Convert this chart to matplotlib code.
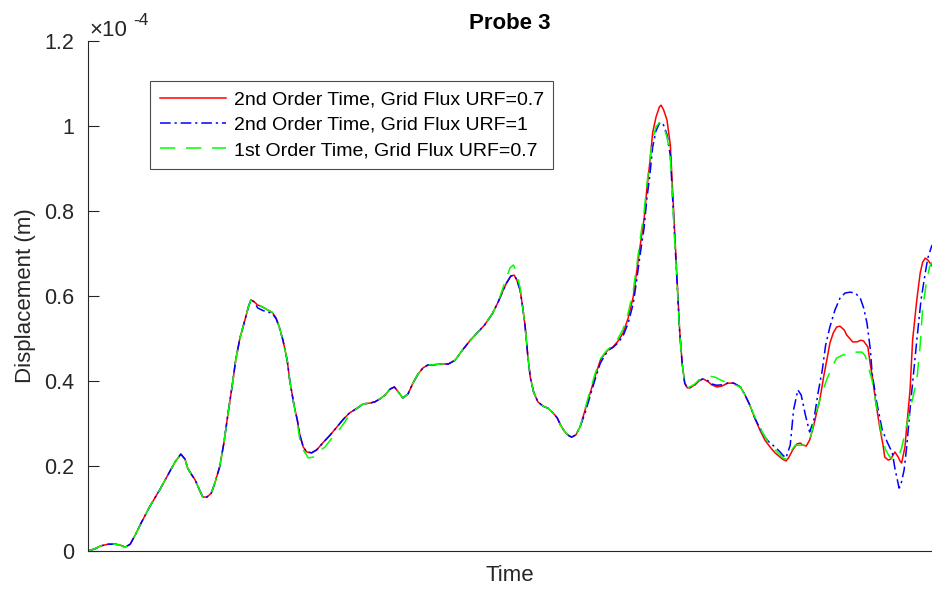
import matplotlib
matplotlib.use("Agg")
import matplotlib.pyplot as plt
from matplotlib.ticker import FuncFormatter

plt.rcParams['font.family'] = ['Liberation Sans', 'DejaVu Sans']

# Normalised time (0..1) and probe displacement in units of 1e-4 m.
# The early rise is identical for all three runs.
rise = [(0.000, 0.000), (0.008, 0.005), (0.015, 0.012), (0.024, 0.016), (0.032, 0.016),
        (0.038, 0.014), (0.044, 0.009), (0.050, 0.016), (0.056, 0.038), (0.063, 0.066),
        (0.073, 0.104), (0.085, 0.144), (0.098, 0.191), (0.104, 0.212), (0.110, 0.228),
        (0.115, 0.216), (0.118, 0.195), (0.123, 0.179), (0.127, 0.167), (0.132, 0.144),
        (0.136, 0.127), (0.141, 0.127), (0.146, 0.136), (0.150, 0.158), (0.156, 0.198),
        (0.161, 0.254), (0.166, 0.325), (0.171, 0.391), (0.175, 0.449), (0.180, 0.501),
        (0.186, 0.544), (0.190, 0.574), (0.193, 0.591), (0.197, 0.586)]

# 2nd order time, grid flux URF = 0.7
red_tail = [
    (0.201, 0.579), (0.207, 0.574), (0.213, 0.567), (0.218, 0.562), (0.223, 0.548),
    (0.227, 0.525), (0.231, 0.496), (0.236, 0.449), (0.239, 0.402), (0.244, 0.344),
    (0.248, 0.308), (0.251, 0.273), (0.255, 0.245), (0.259, 0.233), (0.265, 0.231),
    (0.271, 0.238), (0.278, 0.254), (0.287, 0.273), (0.295, 0.292), (0.303, 0.311),
    (0.310, 0.325), (0.319, 0.336), (0.326, 0.346), (0.334, 0.348), (0.340, 0.351),
    (0.346, 0.358), (0.352, 0.367), (0.358, 0.381), (0.363, 0.386), (0.367, 0.376),
    (0.373, 0.360), (0.379, 0.369), (0.385, 0.395), (0.391, 0.416), (0.397, 0.431),
    (0.403, 0.438), (0.409, 0.438), (0.417, 0.440), (0.427, 0.440), (0.435, 0.449),
    (0.443, 0.471), (0.453, 0.496), (0.462, 0.515), (0.470, 0.532), (0.479, 0.558),
    (0.486, 0.586), (0.492, 0.614), (0.496, 0.631), (0.501, 0.647), (0.505, 0.649),
    (0.508, 0.638), (0.512, 0.614), (0.515, 0.574), (0.518, 0.527), (0.521, 0.461),
    (0.524, 0.409), (0.528, 0.374), (0.533, 0.351), (0.539, 0.341), (0.545, 0.336),
    (0.551, 0.325), (0.556, 0.313), (0.560, 0.296), (0.565, 0.280), (0.570, 0.271),
    (0.573, 0.268), (0.578, 0.273), (0.583, 0.292), (0.589, 0.332), (0.595, 0.372),
    (0.601, 0.412), (0.607, 0.449), (0.613, 0.466), (0.617, 0.475), (0.622, 0.480),
    (0.628, 0.494), (0.634, 0.513), (0.640, 0.548), (0.646, 0.598), (0.650, 0.656),
    (0.654, 0.715), (0.659, 0.784), (0.662, 0.849), (0.666, 0.920), (0.669, 0.984),
    (0.673, 1.021), (0.677, 1.045), (0.679, 1.049), (0.682, 1.038), (0.686, 1.014),
    (0.690, 0.955), (0.692, 0.873), (0.695, 0.755), (0.698, 0.638), (0.701, 0.520),
    (0.704, 0.442), (0.707, 0.395), (0.710, 0.384), (0.713, 0.384), (0.719, 0.391),
    (0.724, 0.400), (0.729, 0.405), (0.735, 0.398), (0.739, 0.391), (0.745, 0.386),
    (0.751, 0.388), (0.758, 0.395), (0.765, 0.395), (0.773, 0.386), (0.778, 0.369),
    (0.784, 0.344), (0.790, 0.313), (0.796, 0.285), (0.802, 0.261), (0.808, 0.245),
    (0.814, 0.231), (0.820, 0.221), (0.823, 0.216), (0.827, 0.212), (0.830, 0.219),
    (0.835, 0.238), (0.840, 0.252), (0.844, 0.254), (0.847, 0.249), (0.851, 0.247),
    (0.855, 0.261), (0.860, 0.296), (0.864, 0.332), (0.867, 0.355), (0.872, 0.414),
    (0.876, 0.456), (0.879, 0.489), (0.883, 0.513), (0.887, 0.527), (0.891, 0.529),
    (0.896, 0.520), (0.899, 0.508), (0.903, 0.499), (0.906, 0.492), (0.911, 0.492),
    (0.916, 0.496), (0.919, 0.494), (0.924, 0.480), (0.927, 0.438), (0.930, 0.402),
    (0.933, 0.355), (0.938, 0.292), (0.942, 0.249), (0.944, 0.221), (0.948, 0.214),
    (0.951, 0.216), (0.956, 0.233), (0.960, 0.221), (0.962, 0.212), (0.964, 0.207),
    (0.968, 0.245), (0.970, 0.292), (0.974, 0.379), (0.977, 0.496), (0.982, 0.591),
    (0.986, 0.654), (0.989, 0.680), (0.992, 0.689), (0.995, 0.685), (1.000, 0.671)]

# 2nd order time, grid flux URF = 1
blue_tail = [
    (0.201, 0.572), (0.207, 0.566), (0.213, 0.562), (0.218, 0.560), (0.223, 0.546),
    (0.227, 0.523), (0.231, 0.496), (0.236, 0.449), (0.239, 0.402), (0.244, 0.344),
    (0.248, 0.308), (0.251, 0.273), (0.255, 0.245), (0.259, 0.233), (0.265, 0.231),
    (0.271, 0.238), (0.278, 0.254), (0.287, 0.273), (0.295, 0.292), (0.303, 0.311),
    (0.310, 0.325), (0.319, 0.336), (0.326, 0.346), (0.334, 0.348), (0.340, 0.351),
    (0.346, 0.358), (0.352, 0.367), (0.358, 0.381), (0.363, 0.386), (0.367, 0.376),
    (0.373, 0.360), (0.379, 0.369), (0.385, 0.395), (0.391, 0.416), (0.397, 0.431),
    (0.403, 0.438), (0.409, 0.438), (0.417, 0.440), (0.427, 0.440), (0.435, 0.449),
    (0.443, 0.471), (0.453, 0.496), (0.462, 0.515), (0.470, 0.532), (0.479, 0.558),
    (0.486, 0.586), (0.492, 0.614), (0.496, 0.631), (0.501, 0.647), (0.505, 0.649),
    (0.508, 0.638), (0.512, 0.614), (0.515, 0.574), (0.518, 0.527), (0.521, 0.461),
    (0.524, 0.409), (0.528, 0.374), (0.533, 0.351), (0.539, 0.341), (0.545, 0.336),
    (0.551, 0.325), (0.556, 0.313), (0.560, 0.296), (0.565, 0.280), (0.570, 0.271),
    (0.573, 0.268), (0.578, 0.273), (0.583, 0.292), (0.589, 0.325), (0.595, 0.365),
    (0.601, 0.405), (0.607, 0.442), (0.613, 0.462), (0.617, 0.473), (0.622, 0.479),
    (0.628, 0.490), (0.634, 0.506), (0.640, 0.536), (0.646, 0.582), (0.650, 0.636),
    (0.654, 0.695), (0.659, 0.762), (0.662, 0.826), (0.666, 0.890), (0.669, 0.950),
    (0.673, 0.989), (0.677, 1.006), (0.679, 1.009), (0.682, 1.002), (0.686, 0.980),
    (0.690, 0.930), (0.692, 0.855), (0.695, 0.745), (0.698, 0.632), (0.701, 0.516),
    (0.704, 0.440), (0.707, 0.395), (0.710, 0.384), (0.713, 0.384), (0.719, 0.391),
    (0.724, 0.402), (0.729, 0.405), (0.735, 0.400), (0.739, 0.393), (0.745, 0.390),
    (0.751, 0.391), (0.758, 0.395), (0.765, 0.395), (0.773, 0.386), (0.778, 0.369),
    (0.784, 0.344), (0.790, 0.313), (0.796, 0.289), (0.802, 0.268), (0.808, 0.254),
    (0.814, 0.245), (0.820, 0.233), (0.823, 0.226), (0.827, 0.219), (0.832, 0.249),
    (0.836, 0.332), (0.841, 0.379), (0.845, 0.367), (0.850, 0.320), (0.855, 0.280),
    (0.860, 0.308), (0.865, 0.372), (0.870, 0.426), (0.874, 0.485), (0.879, 0.527),
    (0.885, 0.567), (0.891, 0.595), (0.897, 0.607), (0.903, 0.609), (0.909, 0.607),
    (0.915, 0.595), (0.919, 0.572), (0.923, 0.536), (0.927, 0.473), (0.929, 0.419),
    (0.934, 0.355), (0.941, 0.285), (0.947, 0.256), (0.953, 0.231), (0.956, 0.195),
    (0.959, 0.167), (0.961, 0.148), (0.963, 0.155), (0.967, 0.191), (0.970, 0.245),
    (0.975, 0.355), (0.982, 0.496), (0.987, 0.591), (0.992, 0.654), (0.995, 0.689),
    (1.000, 0.720)]

# 1st order time, grid flux URF = 0.7
green_tail = [
    (0.201, 0.579), (0.207, 0.574), (0.213, 0.567), (0.218, 0.562), (0.223, 0.548),
    (0.227, 0.525), (0.231, 0.496), (0.236, 0.449), (0.239, 0.402), (0.244, 0.344),
    (0.248, 0.300), (0.251, 0.262), (0.255, 0.238), (0.261, 0.219), (0.267, 0.221),
    (0.273, 0.233), (0.281, 0.245), (0.289, 0.266), (0.299, 0.289), (0.310, 0.320),
    (0.319, 0.336), (0.326, 0.346), (0.334, 0.348), (0.340, 0.351), (0.346, 0.358),
    (0.352, 0.367), (0.358, 0.381), (0.363, 0.386), (0.367, 0.376), (0.373, 0.360),
    (0.379, 0.369), (0.385, 0.395), (0.391, 0.416), (0.397, 0.431), (0.403, 0.438),
    (0.409, 0.438), (0.417, 0.440), (0.427, 0.440), (0.435, 0.449), (0.443, 0.471),
    (0.453, 0.496), (0.462, 0.515), (0.470, 0.532), (0.479, 0.558), (0.486, 0.586),
    (0.494, 0.633), (0.500, 0.666), (0.504, 0.673), (0.507, 0.661), (0.512, 0.619),
    (0.515, 0.574), (0.518, 0.527), (0.521, 0.461), (0.524, 0.409), (0.528, 0.374),
    (0.533, 0.351), (0.539, 0.341), (0.545, 0.336), (0.551, 0.325), (0.556, 0.313),
    (0.560, 0.296), (0.565, 0.280), (0.570, 0.271), (0.573, 0.268), (0.578, 0.273),
    (0.583, 0.292), (0.589, 0.335), (0.595, 0.378), (0.601, 0.418), (0.607, 0.452),
    (0.613, 0.468), (0.617, 0.476), (0.622, 0.484), (0.628, 0.500), (0.634, 0.522),
    (0.640, 0.560), (0.646, 0.612), (0.650, 0.670), (0.654, 0.730), (0.659, 0.800),
    (0.662, 0.860), (0.666, 0.925), (0.669, 0.970), (0.673, 0.998), (0.677, 1.008),
    (0.679, 1.009), (0.682, 0.998), (0.686, 0.975), (0.690, 0.925), (0.692, 0.850),
    (0.695, 0.740), (0.698, 0.630), (0.701, 0.515), (0.704, 0.440), (0.707, 0.395),
    (0.710, 0.384), (0.713, 0.386), (0.719, 0.393), (0.724, 0.402), (0.729, 0.407),
    (0.735, 0.412), (0.743, 0.409), (0.752, 0.400), (0.761, 0.395), (0.773, 0.386),
    (0.778, 0.369), (0.784, 0.344), (0.790, 0.316), (0.796, 0.292), (0.802, 0.268),
    (0.808, 0.252), (0.814, 0.238), (0.820, 0.226), (0.824, 0.218), (0.828, 0.216),
    (0.832, 0.233), (0.838, 0.249), (0.844, 0.249), (0.850, 0.249), (0.855, 0.256),
    (0.861, 0.313), (0.867, 0.355), (0.875, 0.402), (0.881, 0.431), (0.887, 0.454),
    (0.894, 0.461), (0.903, 0.466), (0.911, 0.468), (0.917, 0.468), (0.921, 0.459),
    (0.924, 0.438), (0.929, 0.402), (0.935, 0.332), (0.941, 0.268), (0.945, 0.238),
    (0.950, 0.221), (0.955, 0.216), (0.960, 0.221), (0.964, 0.242), (0.968, 0.278),
    (0.974, 0.332), (0.982, 0.402), (0.986, 0.485), (0.989, 0.574), (0.993, 0.626),
    (0.997, 0.668), (1.000, 0.680)]

series_labels = ["2nd Order Time, Grid Flux URF=0.7",
                 "2nd Order Time, Grid Flux URF=1",
                 "1st Order Time, Grid Flux URF=0.7"]
y_ticks = [0.0, 0.2, 0.4, 0.6, 0.8, 1.0, 1.2]

W, H = 932, 589
fig = plt.figure(figsize=(W / 100, H / 100), dpi=100)
ax = fig.add_axes([88 / W, 38 / H, (W - 88) / W, (551 - 41) / H])

styles = [
    dict(color=(1, 0, 0), linestyle='-'),
    dict(color=(0, 0, 1), linestyle=(0, (7, 2.5, 1.5, 2.5))),
    dict(color=(0, 1, 0), linestyle=(0, (10, 7))),
]
for pts, label, st in zip([rise + red_tail, rise + blue_tail, rise + green_tail],
                          series_labels, styles):
    t = [p[0] for p in pts]
    u = [p[1] for p in pts]
    ax.plot(t, u, lw=1.1, label=label, **st)

ax.set_xlim(0, 1)
ax.set_ylim(0, 1.2)
ax.set_xticks([])
ax.set_yticks(y_ticks)
ax.yaxis.set_major_formatter(FuncFormatter(lambda v, _: '%g' % round(v, 3)))
ax.tick_params(axis='y', direction='in', length=8, width=0.8, colors='#262626',
               labelsize=15.5, pad=10)
for side in ('top', 'right'):
    ax.spines[side].set_visible(False)
for side in ('left', 'bottom'):
    ax.spines[side].set_color('#262626')
    ax.spines[side].set_linewidth(0.8)

ax.set_title('Probe 3', fontsize=16, fontweight='bold', pad=9)
ax.set_xlabel('Time', fontsize=16, color='#262626', labelpad=10)
ax.set_ylabel('Displacement (m)', fontsize=16, color='#262626', labelpad=6)

# exponent marker above the y axis
fig.text(89 / W, 1 - 36 / H, '\u00d710', fontsize=16, color='#262626',
         ha='left', va='baseline')
fig.text(133 / W, 1 - 25 / H, '-4', fontsize=12.5, color='#262626',
         ha='left', va='baseline')

leg = ax.legend(loc='upper left', bbox_to_anchor=(150 / W, 1 - 81 / H),
                bbox_transform=fig.transFigure, borderaxespad=0, fontsize=14,
                handlelength=3.4, handletextpad=0.4, labelspacing=0.4,
                borderpad=0.5, fancybox=False, framealpha=1)
leg.get_frame().set_edgecolor('#4d4d4d')
leg.get_frame().set_linewidth(0.8)

fig.savefig('out.png', dpi=100)
